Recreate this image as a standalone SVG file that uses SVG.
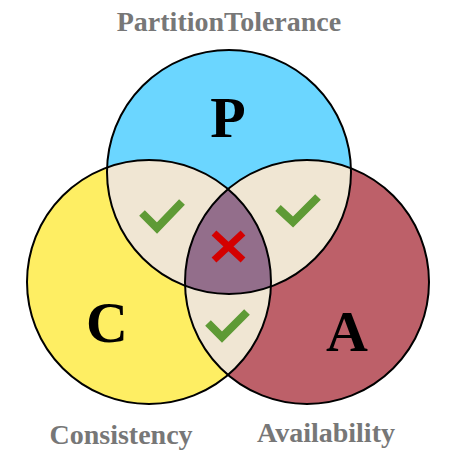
<svg xmlns="http://www.w3.org/2000/svg" width="449" height="473" viewBox="0 0 449 473">
<style>
.outline{fill:none;stroke:#000;stroke-width:2}
.ov{fill:#f0e6d3}
.big{font-family:"Liberation Serif",serif;font-weight:bold;fill:#000;text-anchor:middle}
.lbl{font-family:"Liberation Serif",serif;font-weight:bold;fill:#777;text-anchor:middle;font-size:28px}
.ok{fill:none;stroke:#5e9a35;stroke-width:8;stroke-linecap:butt;stroke-linejoin:miter}
.no{fill:none;stroke:#d40000;stroke-width:7}
</style>
<defs>
<clipPath id="clipC"><circle cx="149" cy="282" r="122"/></clipPath>
<clipPath id="clipA"><circle cx="307" cy="282" r="122"/></clipPath>
<clipPath id="clipP"><circle cx="229" cy="172" r="122"/></clipPath>
</defs>
<rect width="449" height="473" fill="#fff"/>
<g id="fills">
<circle cx="149" cy="282" r="122" fill="#feee63"/>
<circle cx="307" cy="282" r="122" fill="#bd6069"/>
<circle cx="229" cy="172" r="122" fill="#6bd6ff"/>
<circle class="ov" cx="229" cy="172" r="122" clip-path="url(#clipC)"/>
<circle class="ov" cx="229" cy="172" r="122" clip-path="url(#clipA)"/>
<circle class="ov" cx="307" cy="282" r="122" clip-path="url(#clipC)"/>
<g clip-path="url(#clipA)"><circle cx="229" cy="172" r="122" fill="#936e8b" clip-path="url(#clipC)"/></g>
</g>
<g id="node-C"><circle class="outline" cx="149" cy="282" r="122"/><text class="big" x="107" y="342" font-size="58">C</text><text class="lbl" x="121" y="444">Consistency</text></g>
<g id="node-A"><circle class="outline" cx="307" cy="282" r="122"/><text class="big" x="347" y="351" font-size="58">A</text><text class="lbl" x="326" y="442">Availability</text></g>
<g id="node-P"><circle class="outline" cx="229" cy="172" r="122"/><text class="big" x="228" y="137" font-size="58">P</text><text class="lbl" x="229" y="31">PartitionTolerance</text></g>
<g id="marks">
<polyline class="ok" points="142,213 157,228 182,202"/>
<polyline class="ok" points="278,208 293,222 318,197"/>
<polyline class="ok" points="208,323 222,337 247,312"/>
<line class="no" x1="214" y1="233" x2="243" y2="260"/>
<line class="no" x1="243" y1="233" x2="214" y2="260"/>
</g>
</svg>
